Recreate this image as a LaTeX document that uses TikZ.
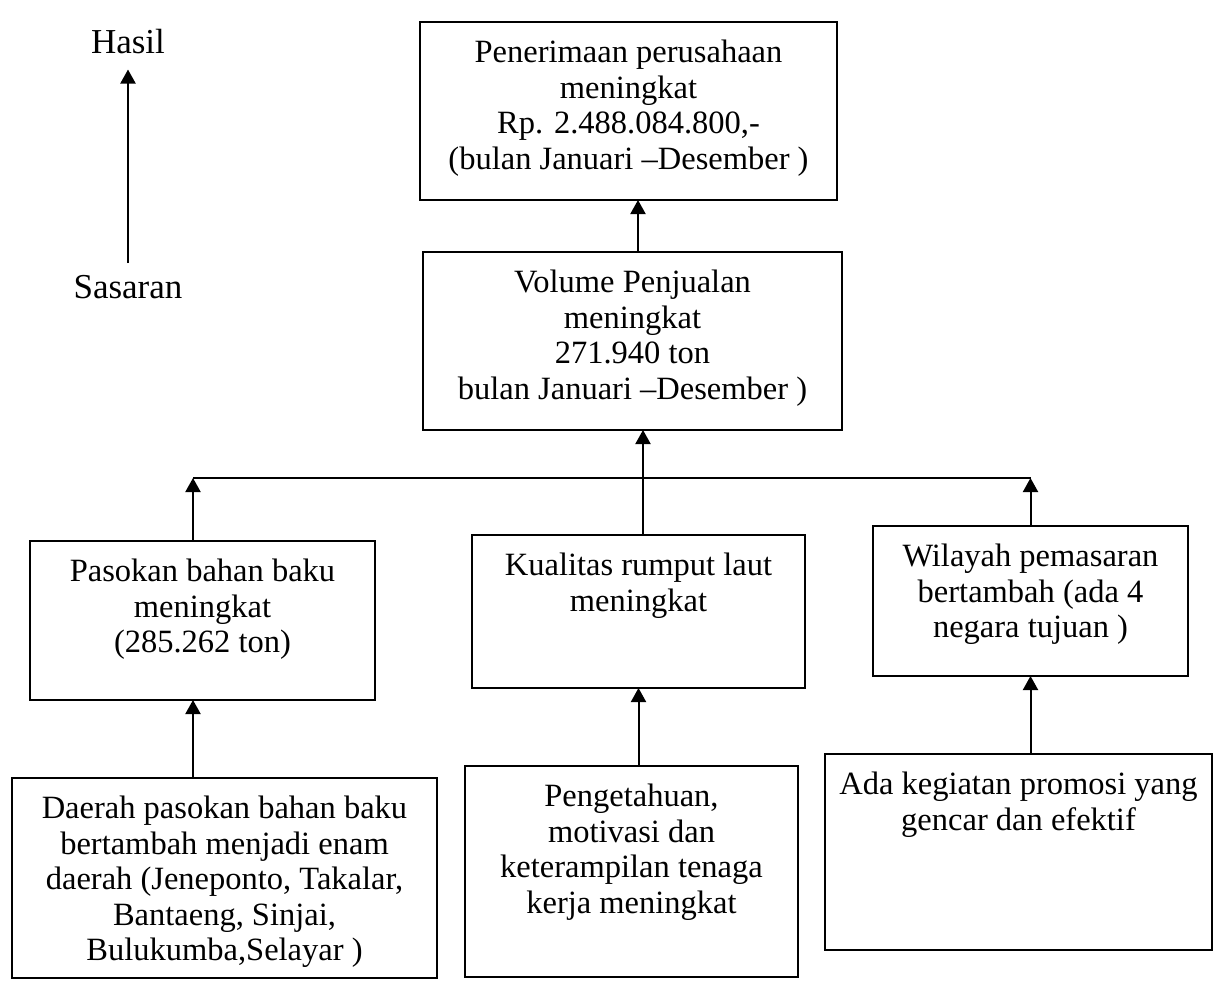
\documentclass[tikz,border=0pt]{standalone}
\usepackage{fontspec}
\setmainfont{Liberation Serif}
\usetikzlibrary{arrows.meta}
\newcommand{\bxtext}[3]{\parbox[c][#2][t]{#1}{\centering\vspace*{16pt}\strut#3\par}}
\tikzset{
  bx/.style={draw, line width=2.2pt, inner sep=0pt, outer sep=0pt, anchor=north west,
    font=\fontsize{32.5pt}{35.5pt}\selectfont},
  arr/.style={line width=2pt, -{Triangle[width=15pt,length=14pt]}},
  conn/.style={line width=2pt},
  lbl/.style={font=\fontsize{35pt}{38pt}\selectfont, inner sep=0pt}
}
\begin{document}
\begin{tikzpicture}[x=1pt,y=-1pt]
\useasboundingbox (0,0) rectangle (1215,990);
\fill[white] (0,0) rectangle (1215,990);

\node[lbl] (hasil) at (128,42) {Hasil};
\node[lbl] (sasaran) at (128,287) {Sasaran};
\draw[arr, shorten >=15pt, shorten <=12pt] (sasaran.north) -- (hasil.south);

\node[bx] (b1) at (420,22) {\bxtext{417pt}{178pt}{Penerimaan perusahaan\\meningkat\\Rp. 2.488.084.800,-\\(bulan Januari –Desember )}};
\node[bx] (b2) at (423,252) {\bxtext{419pt}{178pt}{Volume Penjualan\\meningkat\\271.940 ton\\bulan Januari –Desember )}};
\node[bx] (b3) at (30,541) {\bxtext{345pt}{159pt}{Pasokan bahan baku\\meningkat\\(285.262 ton)}};
\node[bx] (b4) at (472,535) {\bxtext{333pt}{153pt}{Kualitas rumput laut\\meningkat}};
\node[bx] (b5) at (873,526) {\bxtext{315pt}{150pt}{Wilayah pemasaran\\bertambah (ada 4\\negara tujuan )}};
\node[bx] (b6) at (12,778) {\bxtext{425pt}{200pt}{Daerah pasokan bahan baku\\bertambah menjadi enam\\daerah (Jeneponto, Takalar,\\Bantaeng, Sinjai,\\Bulukumba,Selayar )}};
\node[bx] (b7) at (465,766) {\bxtext{333pt}{211pt}{Pengetahuan,\\motivasi dan\\keterampilan tenaga\\kerja meningkat}};
\node[bx] (b8) at (825,754) {\bxtext{387pt}{196pt}{Ada kegiatan promosi yang\\gencar dan efektif}};

\coordinate (xl) at (193,0);
\coordinate (xm) at (643,0);
\coordinate (xt) at (638,0);
\coordinate (hl) at (193,478);
\coordinate (hr) at (b5.north |- hl);

\draw[conn] (hl) -- (hr);
\draw[arr] (xl |- b3.north) -- (hl);
\draw[arr] (b5.north) -- (hr);
\draw[arr] (xm |- b4.north) -- (xm |- b2.south);
\draw[arr] (xt |- b2.north) -- (xt |- b1.south);
\draw[arr] (xl |- b6.north) -- (xl |- b3.south);
\draw[arr] (b4.south |- b7.north) -- (b4.south);
\draw[arr] (b5.south |- b8.north) -- (b5.south);
\end{tikzpicture}
\end{document}
